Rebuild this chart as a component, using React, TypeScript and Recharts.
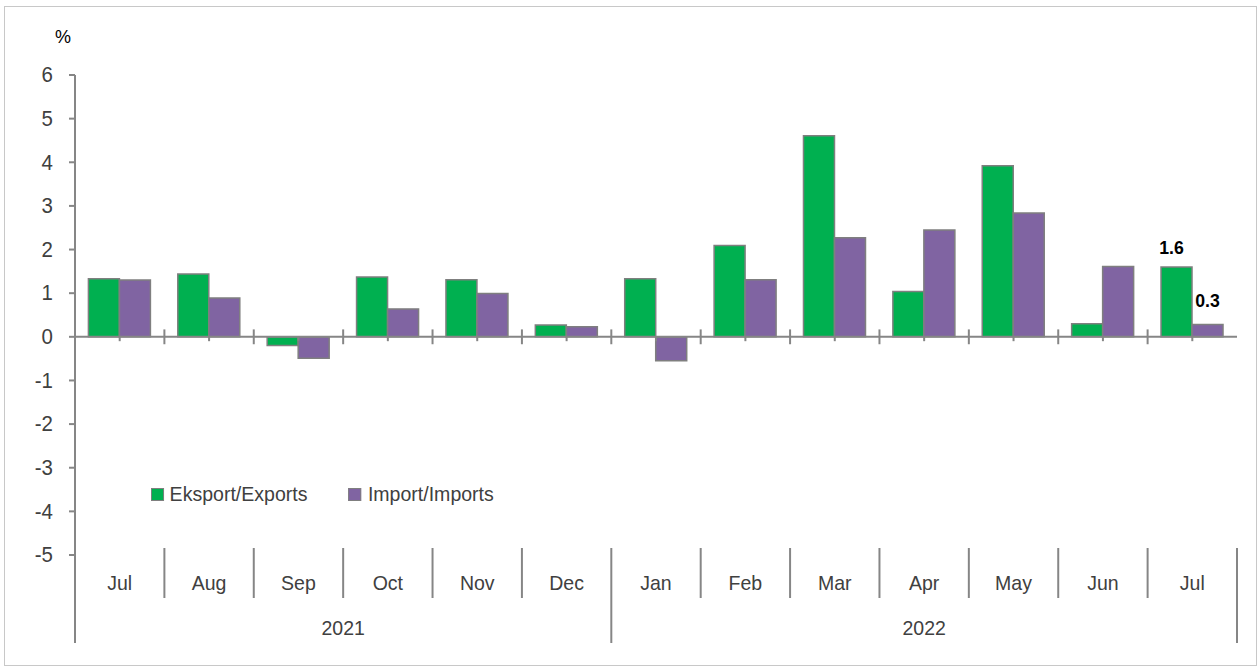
import React from 'react';
import {
  BarChart,
  Bar,
  XAxis,
  YAxis,
  ReferenceLine,
  LabelList,
} from 'recharts';

const months = ['Jul', 'Aug', 'Sep', 'Oct', 'Nov', 'Dec', 'Jan', 'Feb', 'Mar', 'Apr', 'May', 'Jun', 'Jul'];
const periodKeys = ['Jul-21', 'Aug-21', 'Sep-21', 'Oct-21', 'Nov-21', 'Dec-21', 'Jan-22', 'Feb-22', 'Mar-22', 'Apr-22', 'May-22', 'Jun-22', 'Jul-22'];
const exportsValues = [1.33, 1.44, -0.2, 1.37, 1.31, 0.27, 1.33, 2.09, 4.61, 1.04, 3.92, 0.3, 1.6];
const importsValues = [1.3, 0.89, -0.49, 0.64, 0.99, 0.23, -0.55, 1.31, 2.27, 2.45, 2.84, 1.61, 0.28];
const years = [
  { label: '2021', count: 6 },
  { label: '2022', count: 7 },
];
const yTicks = [-5, -4, -3, -2, -1, 0, 1, 2, 3, 4, 5, 6];

const GREEN = '#00b050';
const PURPLE = '#8064a2';
const BORDER = '#7f7f7f';
const AXIS = '#868686';
const TEXT = '#404040';
const FONT = "'Liberation Sans', Arial, sans-serif";
const SQUEEZE = 0.93; // reference font is a bit narrower than Liberation Sans

const data = periodKeys.map((key, i) => ({
  key,
  exports: exportsValues[i],
  imports: importsValues[i],
}));

// year group bookkeeping for the two-level axis
const yearStarts: number[] = [];
let acc = 0;
years.forEach((y) => {
  yearStarts.push(acc);
  acc += y.count;
});

const NarrowText = ({ x, y, anchor = 'middle', size = 21, fill = TEXT, bold = false, dy, children }: any) => (
  <text
    transform={`translate(${x},${y}) scale(${SQUEEZE},1)`}
    x={0}
    y={0}
    dy={dy}
    textAnchor={anchor}
    fill={fill}
    fontSize={size}
    fontWeight={bold ? 'bold' : 'normal'}
    fontFamily={FONT}
  >
    {children}
  </text>
);

const CategoryTick = (props: any) => {
  const { x, y, payload, index } = props;
  const half = payload?.offset ?? 0;
  const i = index ?? payload.index;
  const left = x - half;
  const isYearStart = yearStarts.includes(i);
  const isLast = i === periodKeys.length - 1;
  const els: React.ReactNode[] = [];

  els.push(
    <line key="sep" x1={left} x2={left} y1={y - 7} y2={isYearStart ? y + 88 : y + 43} stroke={AXIS} strokeWidth={2} />
  );
  if (isLast) {
    els.push(<line key="end" x1={x + half} x2={x + half} y1={y - 7} y2={y + 88} stroke={AXIS} strokeWidth={2} />);
  }
  els.push(
    <NarrowText key="m" x={x} y={y + 35}>
      {months[i]}
    </NarrowText>
  );
  years.forEach((yr, k) => {
    const mid = yearStarts[k] + (yr.count - 1) / 2;
    if (Math.floor(mid) === i) {
      const shift = (mid - i) * half * 2;
      els.push(
        <NarrowText key={'y' + k} x={x + shift} y={y + 80}>
          {yr.label}
        </NarrowText>
      );
    }
  });
  return <g>{els}</g>;
};

const ValueTick = (props: any) => {
  const { x, y, payload } = props;
  return (
    <NarrowText x={x} y={y} anchor="end" size={22} dy="0.33em">
      {payload.value}
    </NarrowText>
  );
};

const makeEndLabel = (dy: number, dx: number) => (props: any) => {
  const { x, y, width, height, value, index } = props;
  if (index !== periodKeys.length - 1) return null;
  const top = height >= 0 ? y : y + height;
  return (
    <NarrowText x={x + width / 2 + dx} y={top - dy} size={19} fill="#000" bold>
      {Number(value).toFixed(1)}
    </NarrowText>
  );
};

const Legend2 = () => (
  <div
    style={{
      position: 'absolute',
      left: 151,
      top: 482,
      display: 'flex',
      alignItems: 'center',
      fontFamily: FONT,
      fontSize: 21,
      color: TEXT,
      transform: `scaleX(${SQUEEZE})`,
      transformOrigin: 'left center',
    }}
  >
    <span style={{ width: 12, height: 11, background: GREEN, border: `1px solid ${BORDER}`, marginRight: 6 }} />
    <span style={{ marginRight: 44 }}>Eksport/Exports</span>
    <span style={{ width: 12, height: 11, background: PURPLE, border: `1px solid ${BORDER}`, marginRight: 7 }} />
    <span>Import/Imports</span>
  </div>
);

export default function App() {
  return (
    <div style={{ position: 'absolute', left: 0, top: 0, width: 1260, height: 670, background: '#fff' }}>
      <div
        style={{
          position: 'absolute',
          left: 4,
          top: 6,
          width: 1251,
          height: 658,
          border: '1px solid #c8c8c8',
        }}
      />
      <span
        style={{ position: 'absolute', left: 55, top: 27, fontFamily: FONT, fontSize: 18, color: '#000' }}
      >
        %
      </span>
      <div style={{ position: 'absolute', left: 0, top: 0 }}>
        <BarChart
          width={1260}
          height={670}
          data={data}
          margin={{ top: 75, right: 23, left: 0, bottom: 0 }}
          barCategoryGap="15%"
          barGap={0}
        >
          <XAxis
            dataKey="key"
            height={115}
            axisLine={false}
            tickLine={false}
            tickSize={0}
            tickMargin={0}
            interval={0}
            tick={<CategoryTick />}
          />
          <YAxis
            width={75}
            domain={[-5, 6]}
            ticks={yTicks}
            interval={0}
            allowDataOverflow
            axisLine={{ stroke: AXIS, strokeWidth: 2 }}
            tickLine={{ stroke: AXIS, strokeWidth: 2 }}
            tickSize={6}
            tickMargin={16}
            tick={<ValueTick />}
          />
          <ReferenceLine y={0} stroke={AXIS} strokeWidth={2} />
          <Bar dataKey="exports" fill={GREEN} stroke={BORDER} strokeWidth={1.5} isAnimationActive={false}>
            <LabelList dataKey="exports" content={makeEndLabel(13, -5)} />
          </Bar>
          <Bar dataKey="imports" fill={PURPLE} stroke={BORDER} strokeWidth={1.5} isAnimationActive={false}>
            <LabelList dataKey="imports" content={makeEndLabel(18, 0)} />
          </Bar>
          {periodKeys.slice(1).map((k) => (
            <ReferenceLine
              key={'b' + k}
              segment={[{ x: k, y: 0.17 }, { x: k, y: -0.17 }]}
              position="start"
              stroke={AXIS}
              strokeWidth={2}
            />
          ))}
          <ReferenceLine
            segment={[{ x: periodKeys[periodKeys.length - 1], y: 0.17 }, { x: periodKeys[periodKeys.length - 1], y: -0.17 }]}
            position="end"
            stroke={AXIS}
            strokeWidth={2}
          />
          {periodKeys.map((k) => (
            <ReferenceLine
              key={'c' + k}
              segment={[{ x: k, y: 0 }, { x: k, y: -0.1 }]}
              position="middle"
              stroke={AXIS}
              strokeWidth={2}
            />
          ))}
        </BarChart>
      </div>
      <Legend2 />
    </div>
  );
}
